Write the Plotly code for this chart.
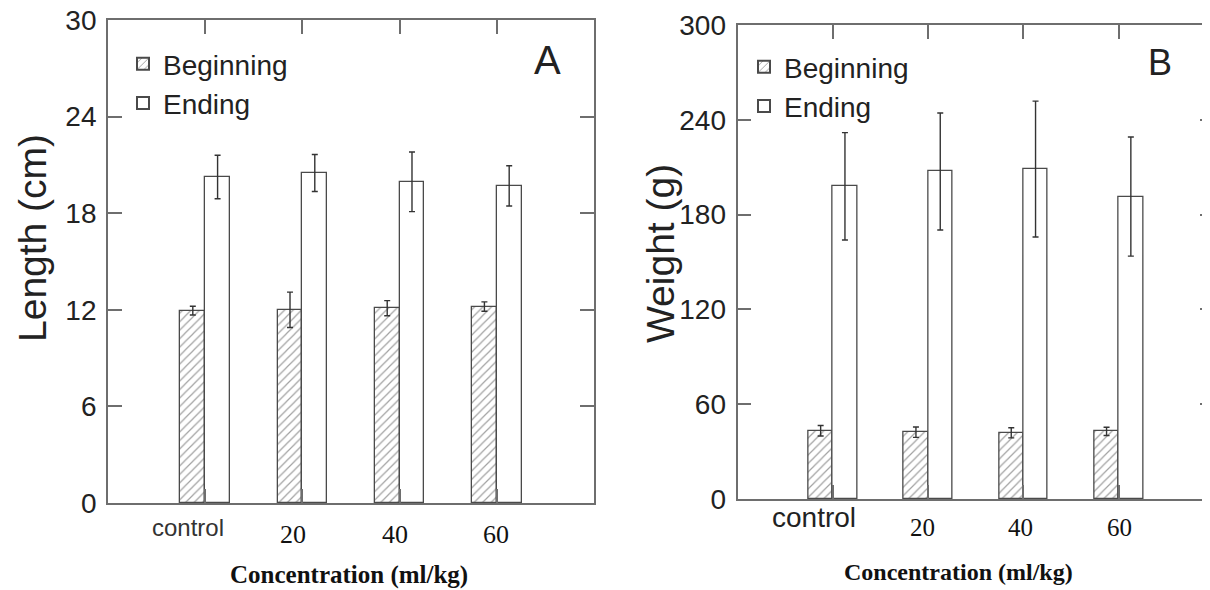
import plotly.graph_objects as go

# ---------------- data ----------------
categories = ["control", "20", "40", "60"]
cat_pos = [1, 2, 3, 4]

len_begin = [11.95, 12.0, 12.1, 12.2]
len_begin_err = [0.27, 1.1, 0.47, 0.29]
len_end = [20.25, 20.5, 19.95, 19.7]
len_end_err = [1.35, 1.15, 1.85, 1.25]

wt_begin = [43.2, 42.3, 41.9, 42.8]
wt_begin_err = [3.3, 3.3, 3.2, 2.6]
wt_end = [197.9, 207.3, 208.8, 191.4]
wt_end_err = [34, 37, 43, 37.7]

len_ticks = [0, 6, 12, 18, 24, 30]
wt_ticks = [0, 60, 120, 180, 240, 300]

W, H = 1210, 590
OFF = 8  # page body margin: figure is drawn 8px in from the window corner
SANS = "Liberation Sans, Arial, sans-serif"
SERIF = "Liberation Serif, Times New Roman, serif"
TXT = "#222222"
LINE = "#6e6e6e"
BAR_LINE = "#4a4a4a"
BW = 0.255

def px(xp):  # screen pixel -> paper fraction
    return (xp - OFF) / W

def py(yp):
    return (H - (yp - OFF)) / H

fig = go.Figure()

def add_pair(xa, ya, begin, begin_err, end, end_err, legend):
    fig.add_trace(go.Bar(
        x=cat_pos, y=begin, width=BW, offset=-BW, name="Beginning",
        xaxis=xa, yaxis=ya, legend=legend,
        marker=dict(color="white", line=dict(color=BAR_LINE, width=1.3),
                    pattern=dict(shape="/", fgcolor="#444444", bgcolor="white",
                                 size=6, solidity=0.2)),
        error_y=dict(type="data", array=begin_err, color="#333333",
                     thickness=1.4, width=3),
    ))
    fig.add_trace(go.Bar(
        x=cat_pos, y=end, width=BW, offset=0, name="Ending",
        xaxis=xa, yaxis=ya, legend=legend,
        marker=dict(color="white", line=dict(color=BAR_LINE, width=1.3)),
        error_y=dict(type="data", array=end_err, color="#333333",
                     thickness=1.4, width=3),
    ))

add_pair("x", "y", len_begin, len_begin_err, len_end, len_end_err, "legend")
add_pair("x2", "y2", wt_begin, wt_begin_err, wt_end, wt_end_err, "legend2")

# ---------------- axes (screen pixel targets) ----------------
L_left, L_right, L_top, L_bot = 108, 594, 20, 503
R_left, R_right, R_top, R_bot = 737.5, 1214, 25, 499

xcommon = dict(tickvals=cat_pos, ticks="inside", ticklen=14, tickwidth=1.5,
               tickcolor=LINE, showticklabels=False, showline=True,
               linecolor=LINE, linewidth=1.8, mirror="ticks",
               showgrid=False, zeroline=False, fixedrange=True,
               automargin=False, range=[0, 5])
ycommon = dict(ticks="inside", ticklen=14, tickwidth=1.5, tickcolor=LINE,
               showline=True, linecolor=LINE, linewidth=1.8, mirror="ticks",
               showgrid=False, zeroline=False, automargin=False,
               tickfont=dict(family=SANS, size=28, color=TXT),
               ticklabelstandoff=4, ticklabeloverflow="allow")

fig.update_layout(
    xaxis=dict(domain=[px(L_left), px(L_right)], anchor="y", **xcommon),
    yaxis=dict(domain=[py(L_bot), py(L_top)], range=[0, 30], anchor="x",
               tickvals=len_ticks, **ycommon),
    xaxis2=dict(domain=[px(R_left), px(R_right)], anchor="y2", **xcommon),
    yaxis2=dict(domain=[py(R_bot), py(R_top)], range=[0, 300], anchor="x2",
                tickvals=wt_ticks, **ycommon),
)

# ---------------- text ----------------
ann = []
left_shift = [-17, -9, -5, -1]
right_shift = [-19, -5.5, -2.5, 1]
for i, c in enumerate(categories):
    is_ctrl = (c == "control")
    ann.append(dict(x=cat_pos[i], xref="x", y=py(527 if is_ctrl else 534), yref="paper",
                    text=c, showarrow=False, xshift=left_shift[i],
                    xanchor="center", yanchor="middle",
                    font=dict(family=SANS if is_ctrl else SERIF,
                              size=24 if is_ctrl else 26,
                              color="#333333" if is_ctrl else "#111111")))
    ann.append(dict(x=cat_pos[i], xref="x2", y=py(517 if is_ctrl else 527), yref="paper",
                    text=c, showarrow=False, xshift=right_shift[i],
                    xanchor="center", yanchor="middle",
                    font=dict(family=SANS if is_ctrl else SERIF,
                              size=28 if is_ctrl else 25,
                              color="#222222" if is_ctrl else "#111111")))

ann.append(dict(x=px(348.5), y=py(575), xref="paper", yref="paper",
                text="<b>Concentration (ml/kg)</b>", showarrow=False,
                xanchor="center", yanchor="middle",
                font=dict(family=SERIF, size=25, color="#111111")))
ann.append(dict(x=px(958.5), y=py(572), xref="paper", yref="paper",
                text="<b>Concentration (ml/kg)</b>", showarrow=False,
                xanchor="center", yanchor="middle",
                font=dict(family=SERIF, size=24, color="#111111")))
ann.append(dict(x=px(33), y=py(238), xref="paper", yref="paper",
                text="Length (cm)", showarrow=False, textangle=-90,
                xanchor="center", yanchor="middle",
                font=dict(family=SANS, size=39, color=TXT)))
ann.append(dict(x=px(660), y=py(254), xref="paper", yref="paper",
                text="Weight (g)", showarrow=False, textangle=-90,
                xanchor="center", yanchor="middle",
                font=dict(family=SANS, size=39, color=TXT)))
ann.append(dict(x=px(547), y=py(60), xref="paper", yref="paper",
                text="A", showarrow=False, xanchor="center", yanchor="middle",
                font=dict(family=SANS, size=40, color=TXT)))
ann.append(dict(x=px(1160), y=py(63), xref="paper", yref="paper",
                text="B", showarrow=False, xanchor="center", yanchor="middle",
                font=dict(family=SANS, size=36, color=TXT)))

legend_common = dict(xanchor="left", yanchor="top", bgcolor="rgba(0,0,0,0)",
                     borderwidth=0, tracegroupgap=0, itemsizing="constant",
                     font=dict(family=SANS, size=28, color=TXT))

fig.update_layout(
    width=W, height=H,
    margin=dict(l=0, r=0, t=0, b=0, autoexpand=False),
    paper_bgcolor="white", plot_bgcolor="white",
    barmode="overlay", bargap=0,
    showlegend=True,
    legend=dict(x=px(123), y=py(39), **legend_common),
    legend2=dict(x=px(744), y=py(42), **legend_common),
    annotations=ann,
)

fig.write_html("out.html")
